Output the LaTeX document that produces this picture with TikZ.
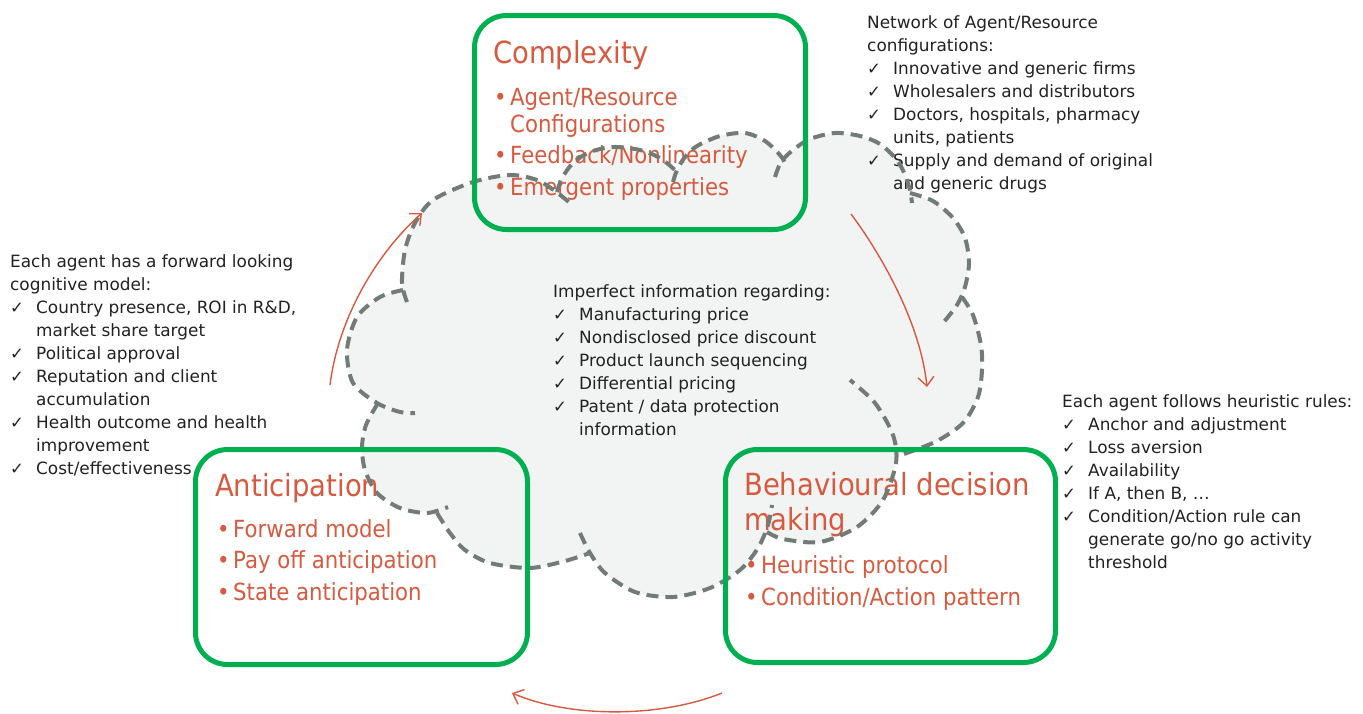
\documentclass[tikz,border=0pt]{standalone}
\usepackage{fontspec}
\setmainfont{DejaVu Sans}
\newfontfamily\redfont{DejaVu Sans}[FakeStretch=0.9]
\usetikzlibrary{arrows.meta}
\definecolor{boxgreen}{HTML}{00B050}
\definecolor{labelred}{HTML}{D55A3F}
\definecolor{bodygray}{HTML}{222222}
\definecolor{cloudgray}{HTML}{F2F3F3}
\definecolor{seamgray}{HTML}{707C75}
% check-mark item and its hanging indent
\newcommand\ckmark{\makebox[26pt][l]{\fontsize{16.5}{16.5}\selectfont ✓}}
\newcommand\ckindent{\hspace*{26pt}}
% red bullet item and its hanging indent
\newcommand\rbullet{\makebox[16pt][l]{•}}
\newcommand\rbindent{\hspace*{16pt}}
\begin{document}
\begin{tikzpicture}[x=1pt,y=-1pt,
  gbox/.style={draw=boxgreen, line width=5pt, rounded corners=32pt, inner sep=0pt},
  cloudline/.style={draw=seamgray, line width=4pt, dash pattern=on 12pt off 7pt},
  flowarrow/.style={draw=labelred, line width=1.4pt, -{Straight Barb[length=9pt,width=16pt]}},
  graytext/.style={text=bodygray, inner sep=0pt, anchor=base west, font=\fontsize{16.9}{23}\selectfont},
  redtitle/.style={text=labelred, inner sep=0pt, anchor=base west, font=\redfont\fontsize{30.5}{35}\selectfont},
  redlist/.style={text=labelred, inner sep=0pt, anchor=base west, font=\redfont\fontsize{23.6}{27}\selectfont},
]
\useasboundingbox (0,0) rectangle (1363,713);
\fill[white] (0,0) rectangle (1363,713);

% cloud body
\fill[cloudgray]
  plot[smooth] coordinates {(378,403) (366,425) (362,447) (365,470) (377,493) (400,508) (427,513) (437,513)}
  -- plot[smooth] coordinates {(437,513) (450,533) (465,550) (490,563) (530,568) (565,561) (590,553)}
  -- plot[smooth] coordinates {(590,553) (605,573) (635,592) (673,597) (710,588) (740,570) (758,548) (767,532)}
  -- plot[smooth] coordinates {(767,532) (783,539) (820,542) (857,527) (883,500) (896,463) (897,457)}
  -- plot[smooth] coordinates {(898,456) (935,442) (963,423) (978,397) (982,370) (981,345) (973,315) (962,297)}
  -- plot[smooth] coordinates {(962,297) (965,287) (969,263) (965,238) (953,218) (933,201) (910,193)}
  -- plot[smooth] coordinates {(910,190) (905,175) (897,160) (880,144) (860,136) (835,133) (810,139) (793,150) (785,160)}
  -- plot[smooth] coordinates {(785,163) (780,155) (765,141) (745,133) (720,136) (697,146) (685,157) (677,170) (675,170)}
  -- plot[smooth] coordinates {(675,170) (660,158) (640,150) (613,147) (590,152) (573,163) (562,178) (557,192)}
  -- plot[smooth] coordinates {(557,192) (537,180) (510,175) (473,182) (433,200) (415,223) (405,250) (402,283) (403,290)}
  -- plot[smooth] coordinates {(403,290) (380,297) (357,317) (347,350) (353,383) (377,403)}
  -- cycle;

% red headings and bullet lists
\node[redtitle] (ctitle) at (493,63) {Complexity};
\node[redlist] (clist) at (494,105) {\begin{tabular}[t]{@{}l@{}}
  \rbullet Agent/Resource\\
  \rbindent Configurations\\[4.5pt]
  \rbullet Feedback/Nonlinearity\\[4.5pt]
  \rbullet Emergent properties
\end{tabular}};

\node[redtitle] (atitle) at (215,496) {Anticipation};
\node[redlist] (alist) at (217,537) {\begin{tabular}[t]{@{}l@{}}
  \rbullet Forward model\\[4.5pt]
  \rbullet Pay off anticipation\\[4.5pt]
  \rbullet State anticipation
\end{tabular}};

\node[redtitle] (btitle) at (744,495) {\begin{tabular}[t]{@{}l@{}}
  Behavioural decision\\
  making
\end{tabular}};
\node[redlist] (blist) at (745,573) {\begin{tabular}[t]{@{}l@{}}
  \rbullet Heuristic protocol\\[5pt]
  \rbullet Condition/Action pattern
\end{tabular}};

% gray annotation blocks
\node[graytext] (netnote) at (867,28) {\begin{tabular}[t]{@{}l@{}}
  Network of Agent/Resource\\
  configurations:\\
  \ckmark Innovative and generic firms\\
  \ckmark Wholesalers and distributors\\
  \ckmark Doctors, hospitals, pharmacy\\
  \ckindent units, patients\\
  \ckmark Supply and demand of original\\
  \ckindent and generic drugs
\end{tabular}};

\node[graytext] (cognote) at (10,267) {\begin{tabular}[t]{@{}l@{}}
  Each agent has a forward looking\\
  cognitive model:\\
  \ckmark Country presence, ROI in R\&D,\\
  \ckindent market share target\\
  \ckmark Political approval\\
  \ckmark Reputation and client\\
  \ckindent accumulation\\
  \ckmark Health outcome and health\\
  \ckindent improvement\\
  \ckmark Cost/effectiveness
\end{tabular}};

\node[graytext] (infonote) at (553,297) {\begin{tabular}[t]{@{}l@{}}
  Imperfect information regarding:\\
  \ckmark Manufacturing price\\
  \ckmark Nondisclosed price discount\\
  \ckmark Product launch sequencing\\
  \ckmark Differential pricing\\
  \ckmark Patent / data protection\\
  \ckindent information
\end{tabular}};

\node[graytext] (rulenote) at (1062,407) {\begin{tabular}[t]{@{}l@{}}
  Each agent follows heuristic rules:\\
  \ckmark Anchor and adjustment\\
  \ckmark Loss aversion\\
  \ckmark Availability\\
  \ckmark If A, then B, …\\
  \ckmark Condition/Action rule can\\
  \ckindent generate go/no go activity\\
  \ckindent threshold
\end{tabular}};

% dashed cloud outline, one bump at a time
\draw[cloudline] plot[smooth] coordinates {(407,302) (402,283) (405,250) (415,223) (433,200) (473,182) (510,175) (537,180) (555,191) (570,203)};
\draw[cloudline] plot[smooth] coordinates {(403,290) (380,297) (357,317) (347,350) (353,383) (377,403) (400,412) (415,413)};
\draw[cloudline] plot[smooth] coordinates {(378,403) (366,425) (362,447) (365,470) (377,493) (400,508) (427,513) (448,507)};
\draw[cloudline] plot[smooth] coordinates {(437,513) (450,533) (465,550) (490,563) (530,568) (565,561) (590,553)};
\draw[cloudline] plot[smooth] coordinates {(580,533) (590,553) (605,573) (635,592) (673,597) (710,588) (740,570) (758,548) (768,525) (772,505)};
\draw[cloudline] plot[smooth] coordinates {(767,532) (783,539) (820,542) (857,527) (883,500) (896,463) (893,435) (875,403) (850,380)};
\draw[cloudline] plot[smooth] coordinates {(962,297) (973,315) (981,345) (982,370) (978,397) (963,423) (935,442) (898,456)};
\draw[cloudline] plot[smooth] coordinates {(910,193) (933,201) (953,218) (965,238) (969,263) (965,287) (957,305) (943,323)};
\draw[cloudline] plot[smooth] coordinates {(775,177) (781,162) (793,150) (810,139) (835,133) (860,136) (880,144) (897,160) (905,175) (910,190) (912,203)};
\draw[cloudline] plot[smooth] coordinates {(673,182) (677,170) (685,157) (697,146) (720,136) (745,133) (765,141) (780,155) (785,163)};
\draw[cloudline] plot[smooth] coordinates {(557,192) (562,178) (573,163) (590,152) (613,147) (640,150) (660,158) (675,170)};

% green frames
\node[gbox, minimum width=331pt, minimum height=214pt] (cbox) at (640,122.5) {};
\node[gbox, minimum width=332pt, minimum height=215pt] (abox) at (361.5,557) {};
\node[gbox, minimum width=330pt, minimum height=213pt] (bbox) at (890.5,556) {};

% cycle arrows
\coordinate (upS) at (330,385);
\coordinate (upE) at (422,213);
\coordinate (dnS) at (851,214);
\coordinate (dnE) at (927,387);
\coordinate (btS) at (722,693);
\coordinate (btE) at (512,693);
\draw[flowarrow] (upS) .. controls (338,320) and (375,255) .. (upE);
\draw[flowarrow] (dnS) .. controls (878,250) and (920,320) .. (dnE);
\draw[flowarrow] (btS) .. controls (660,718) and (570,718) .. (btE);
\end{tikzpicture}
\end{document}
